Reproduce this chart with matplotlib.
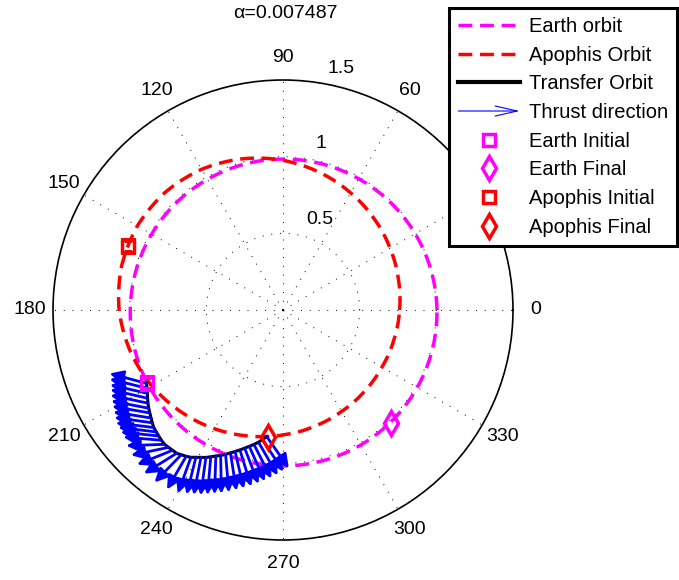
import numpy as np
import matplotlib
matplotlib.use('Agg')
import matplotlib.pyplot as plt
from matplotlib.lines import Line2D
from matplotlib.patches import FancyArrowPatch
from matplotlib.legend_handler import HandlerBase

plt.rcParams['font.family'] = ['Liberation Sans', 'DejaVu Sans']
FS = 14

# Earth orbit (deg, AU)
earth_theta = [0, 30, 60, 90, 120, 150, 180, 210, 240, 270, 300, 330, 360]
earth_r = [1.004, 0.995, 0.988, 0.984, 0.984, 0.989, 0.996, 1.005, 1.012, 1.017, 1.016, 1.011, 1.004]

# Apophis orbit
apophis_theta = [0, 15, 30, 45, 60, 75, 90, 105, 120, 135, 150, 165, 180, 195, 210, 225,
                 240, 255, 270, 285, 300, 315, 330, 345, 360]
apophis_r = [0.760, 0.779, 0.806, 0.841, 0.882, 0.928, 0.976, 1.021, 1.060, 1.086, 1.097, 1.091,
             1.069, 1.032, 0.988, 0.940, 0.894, 0.851, 0.815, 0.786, 0.764, 0.751, 0.745, 0.749, 0.760]

# transfer orbit points (also thrust arrow tails)
transfer_theta = [208.3, 209.9, 211.6, 213.1, 214.6, 216.2, 217.7, 219.3, 220.8, 222.3, 223.9, 225.4,
                  227.0, 228.6, 230.2, 231.8, 233.4, 234.9, 236.5, 238.0, 239.4, 240.9, 242.4, 243.8,
                  245.3, 246.8, 248.3, 249.8, 251.3, 252.9, 254.5, 256.1, 257.8, 259.5, 261.0, 262.7]
transfer_r = [1.010, 1.024, 1.038, 1.054, 1.070, 1.085, 1.098, 1.112, 1.126, 1.139, 1.147, 1.154,
              1.162, 1.168, 1.166, 1.164, 1.164, 1.154, 1.144, 1.133, 1.116, 1.100, 1.085, 1.067,
              1.048, 1.032, 1.013, 0.993, 0.974, 0.955, 0.935, 0.916, 0.897, 0.877, 0.855, 0.833]
# thrust direction (deg, screen frame)
thrust_dir = [165, 166, 167, 167, 168, 169, 170, 171, 172, 173, 173, 174,
              175, 182, 192, 202, 212, 226, 240, 250, 256, 259, 262, 265,
              268, 271, 275, 279, 283, 287, 291, 294, 297, 300, 303, 305]
thrust_len = 0.25

earth_init = (208.3, 1.010)
earth_final = (313.5, 1.020)
apophis_init = (157.5, 1.097)
apophis_final = (263.4, 0.832)

alpha_val = 0.007487
angle_ticks = [0, 30, 60, 90, 120, 150, 180, 210, 240, 270, 300, 330]
r_ticks = [0.5, 1.0, 1.5]
r_labels = ['0.5', '1', '1.5']
r_label_pos = [(67.6, 0.635), (77.1, 1.111), (76.5, 1.617)]


class ArrowHandler(HandlerBase):
    def create_artists(self, legend, orig_handle, xdescent, ydescent, width, height, fontsize, trans):
        y = height / 2 - ydescent
        arr = FancyArrowPatch((-xdescent, y), (width - xdescent, y),
                              arrowstyle='->,head_length=1.1,head_width=0.25',
                              mutation_scale=fontsize, color='blue', lw=0.8,
                              shrinkA=0, shrinkB=0)
        arr.set_transform(trans)
        return [arr]


def curved(line):
    # let the polar transform bend the segments between points
    line.get_path()._interpolation_steps = 40
    return line


fig = plt.figure(figsize=(6.79, 5.80), dpi=100)
ax = fig.add_axes([53 / 679, 40 / 580, 460 / 679, 460 / 580], projection='polar')

dash = (0, (4, 2.2))
curved(ax.plot(np.deg2rad(earth_theta), earth_r, color='magenta', lw=2.5, ls=dash, zorder=3)[0])
curved(ax.plot(np.deg2rad(apophis_theta), apophis_r, color='red', lw=2.5, ls=dash, zorder=3)[0])
curved(ax.plot(np.deg2rad(transfer_theta), transfer_r, color='black', lw=2.2, zorder=3)[0])

# thrust arrows
th = np.deg2rad(transfer_theta)
r0 = np.array(transfer_r)
phi = np.deg2rad(thrust_dir)
x1 = r0 * np.cos(th) + thrust_len * np.cos(phi)
y1 = r0 * np.sin(th) + thrust_len * np.sin(phi)
for t0, rr, t1, rr1 in zip(th, r0, np.arctan2(y1, x1), np.hypot(x1, y1)):
    ax.annotate('', xy=(t1, rr1), xytext=(t0, rr),
                arrowprops=dict(arrowstyle='-|>,head_length=0.5,head_width=0.25',
                                mutation_scale=16, color='blue', lw=2,
                                shrinkA=0, shrinkB=0), zorder=4)

mk = dict(ls='none', mfc='none', mew=2.5, zorder=6)
ax.plot(np.deg2rad(earth_init[0]), earth_init[1], marker='s', ms=8, mec='magenta', **mk)
ax.plot(np.deg2rad(earth_final[0]), earth_final[1], marker='d', ms=12, mec='magenta', **mk)
ax.plot(np.deg2rad(apophis_init[0]), apophis_init[1], marker='s', ms=8, mec='red', **mk)
ax.plot(np.deg2rad(apophis_final[0]), apophis_final[1], marker='d', ms=12, mec='red', **mk)

ax.set_ylim(0, 1.5)
ax.set_yticks(r_ticks)
ax.set_yticklabels([])
ax.set_xticks(np.deg2rad(angle_ticks))
ax.set_xticklabels([])
ax.tick_params(length=0)
ax.grid(True, color='black', lw=0.7, ls=(0, (1, 8)))
ax.spines['polar'].set_linewidth(1.2)

for a in angle_ticks:
    ax.text(np.deg2rad(a), 1.65, str(a), ha='center', va='center', fontsize=FS, clip_on=False)
for lab, (a, rr) in zip(r_labels, r_label_pos):
    ax.text(np.deg2rad(a), rr, lab, ha='center', va='center', fontsize=FS)

fig.text(285 / 679, 1 - 14 / 580, 'α=%g' % alpha_val, ha='center', va='center', fontsize=FS)

handles = [
    Line2D([], [], color='magenta', lw=2.5, ls=dash),
    Line2D([], [], color='red', lw=2.5, ls=dash),
    Line2D([], [], color='black', lw=3),
    FancyArrowPatch((0, 0), (1, 0)),
    Line2D([], [], marker='s', ms=8, mec='magenta', **mk),
    Line2D([], [], marker='d', ms=12, mec='magenta', **mk),
    Line2D([], [], marker='s', ms=8, mec='red', **mk),
    Line2D([], [], marker='d', ms=12, mec='red', **mk),
]
labels = ['Earth orbit', 'Apophis Orbit', 'Transfer Orbit', 'Thrust direction',
          'Earth Initial', 'Earth Final', 'Apophis Initial', 'Apophis Final']
leg = fig.legend(handles, labels, loc='upper right', bbox_to_anchor=(677 / 679, 1 - 8 / 580),
                 fontsize=14.5, handlelength=3.05, handletextpad=0.45, borderpad=0.45,
                 labelspacing=0.48, borderaxespad=0, fancybox=False, framealpha=1,
                 edgecolor='black', handler_map={FancyArrowPatch: ArrowHandler()})
leg.get_frame().set_linewidth(2.2)

fig.savefig('out.png', dpi=100)
